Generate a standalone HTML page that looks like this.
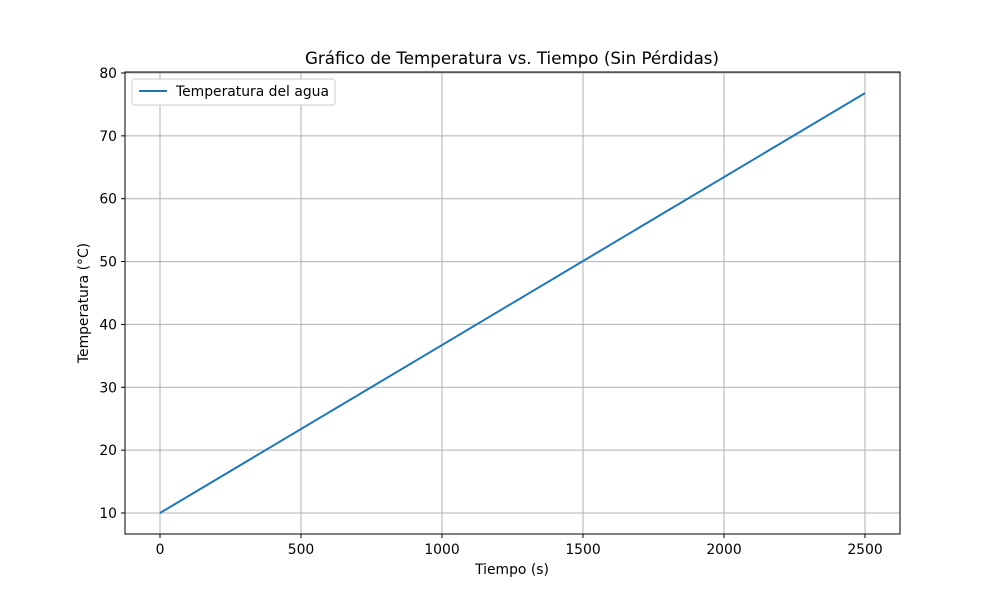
<!DOCTYPE html>
<html><head><meta charset="utf-8"><style>
body{margin:0;background:#fff}
svg text{font-family:"DejaVu Sans","Liberation Sans",sans-serif;fill:#000}
</style></head><body>
<svg id="chart" width="1000" height="600" xmlns="http://www.w3.org/2000/svg">
<rect x="0" y="0" width="1000" height="600" fill="#fff"/>
<g id="grid"></g>
<g id="ticks"></g>
<g id="series"></g>
<rect x="125" y="72" width="775" height="462" fill="none" stroke="#000" stroke-width="1"/>
<text x="512" y="64" font-size="16.7" text-anchor="middle">Gráfico de Temperatura vs. Tiempo (Sin Pérdidas)</text>
<text x="512" y="574" font-size="13.9" text-anchor="middle">Tiempo (s)</text>
<text x="88" y="303" font-size="13.9" text-anchor="middle" transform="rotate(-90 88 303)">Temperatura (°C)</text>
<g>
<rect x="132" y="79" width="203" height="26" rx="3" fill="#fff" stroke="#ccc"/>
<line x1="139" y1="91" x2="167" y2="91" stroke="#1f77b4" stroke-width="2"/>
<text x="176" y="96" font-size="13.9">Temperatura del agua</text>
</g>
</svg>
<script>
const times=[0,2500];
const temps=[10,76.8];
const xTicks=[0,500,1000,1500,2000,2500];
const yTicks=[10,20,30,40,50,60,70,80];
const NS="http://www.w3.org/2000/svg";
function xs(v){return 160+(v-0)*(705/2500);}
function ys(v){return 513-(v-10)*(440/70);}
function mk(t,a,p){const e=document.createElementNS(NS,t);for(const k in a)e.setAttribute(k,a[k]);p.appendChild(e);return e;}
const grid=document.getElementById('grid'),ticks=document.getElementById('ticks'),series=document.getElementById('series');
xTicks.forEach(v=>{const x=xs(v);
const g=mk('line',{x1:x,x2:x,y1:72,y2:534,stroke:'#b0b0b0','stroke-width':1},grid);


const t=mk('line',{x1:x,x2:x,y1:534,y2:538,stroke:'#000'},ticks);


const l=mk('text',{x:x,y:554,'font-size':13.9,'text-anchor':'middle'},ticks);l.textContent=v;

});
yTicks.forEach(v=>{const y=ys(v);
const g=mk('line',{x1:125,x2:900,y1:y,y2:y,stroke:'#b0b0b0','stroke-width':1},grid);


const t=mk('line',{x1:121,x2:125,y1:y,y2:y,stroke:'#000'},ticks);


const l=mk('text',{x:117,y:y+5,'font-size':13.9,'text-anchor':'end'},ticks);l.textContent=v;

});
const pts=times.map((t,i)=>xs(t)+','+ys(temps[i])).join(' ');
const pl=mk('polyline',{points:pts,fill:'none',stroke:'#1f77b4','stroke-width':2},series);


</script>
</body></html>
